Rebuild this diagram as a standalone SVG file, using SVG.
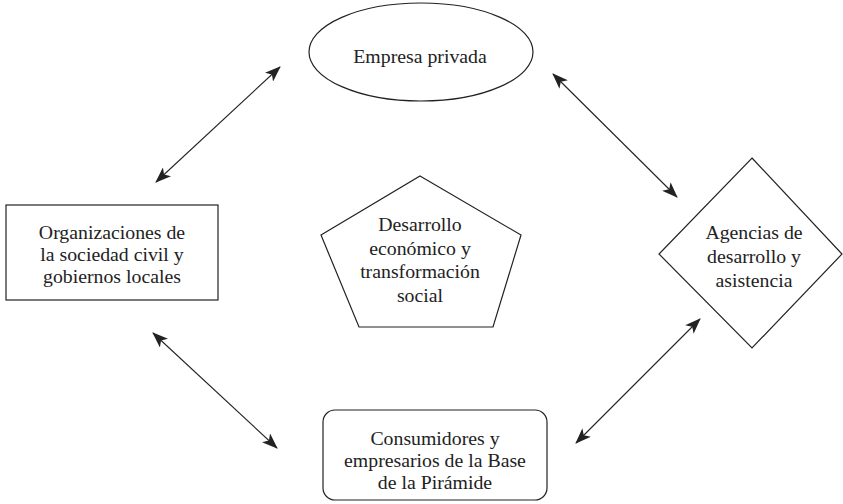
<svg xmlns="http://www.w3.org/2000/svg" width="843" height="504" viewBox="0 0 843 504">
<style>
.shape{fill:#fff;stroke:#222;stroke-width:1.2}
.lbl{font-family:"Liberation Serif","Times New Roman",serif;font-size:19.8px;fill:#222;text-anchor:middle}
.con{stroke:#222;stroke-width:1.1;fill:none;marker-start:url(#ah);marker-end:url(#ah)}
</style>
<defs>
<marker id="ah" viewBox="0 0 16 12" refX="15" refY="6" markerWidth="16" markerHeight="12" markerUnits="userSpaceOnUse" orient="auto-start-reverse">
<path d="M0,0 L16,6 L0,12 L4,6 z" fill="#222"/>
</marker>
</defs>
<rect width="843" height="504" fill="#fff"/>
<g id="connectors">
<line class="con" x1="156" y1="182" x2="280" y2="67"/>
<line class="con" x1="553" y1="74" x2="677" y2="197"/>
<line class="con" x1="153" y1="333" x2="277" y2="448"/>
<line class="con" x1="576" y1="443" x2="700" y2="319"/>
</g>
<g id="empresa-privada">
<ellipse class="shape" cx="421" cy="52" rx="112" ry="49"/>
<text class="lbl" x="420" y="63">Empresa privada</text>
</g>
<g id="organizaciones">
<rect class="shape" x="6" y="205" width="212" height="95"/>
<text class="lbl" x="112" y="239">Organizaciones de</text>
<text class="lbl" x="112" y="261">la sociedad civil y</text>
<text class="lbl" x="112" y="283">gobiernos locales</text>
</g>
<g id="desarrollo">
<polygon class="shape" points="420,176 521,235 493,327 359,327 321,235"/>
<text class="lbl" x="420" y="231">Desarrollo</text>
<text class="lbl" x="420" y="255">económico y</text>
<text class="lbl" x="420" y="278">transformación</text>
<text class="lbl" x="420" y="302">social</text>
</g>
<g id="agencias">
<polygon class="shape" points="752,158 842,254 752,348 659,254"/>
<text class="lbl" x="754" y="239">Agencias de</text>
<text class="lbl" x="754" y="263">desarrollo y</text>
<text class="lbl" x="754" y="287">asistencia</text>
</g>
<g id="consumidores">
<rect class="shape" x="323" y="410" width="224" height="90" rx="12" ry="12"/>
<text class="lbl" x="435" y="445">Consumidores y</text>
<text class="lbl" x="435" y="467">empresarios de la Base</text>
<text class="lbl" x="435" y="489">de la Pirámide</text>
</g>
</svg>
